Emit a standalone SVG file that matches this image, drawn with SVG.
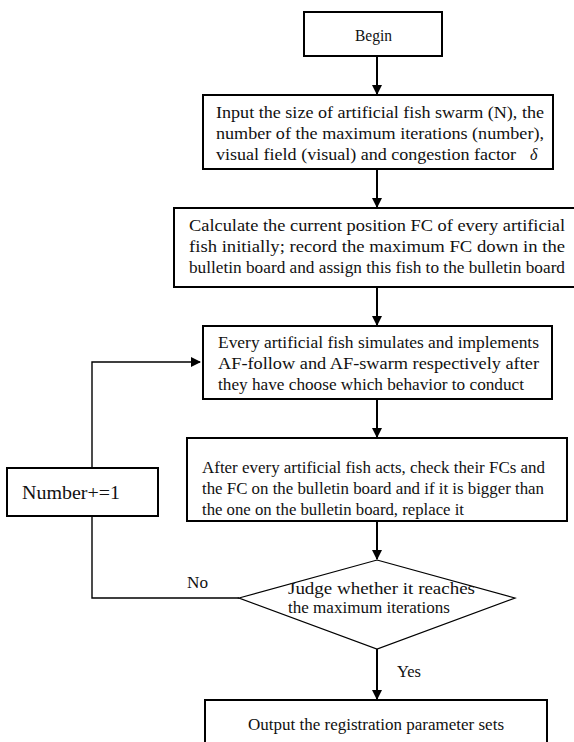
<svg xmlns="http://www.w3.org/2000/svg" width="574" height="742" viewBox="0 0 574 742" font-family="Liberation Serif, Times New Roman, Tinos, DejaVu Serif, serif">
<defs>
<marker id="ah" markerWidth="10" markerHeight="10" refX="9" refY="5" orient="auto" markerUnits="userSpaceOnUse">
<path d="M0,0 L10,5 L0,10 Z" fill="#000"/>
</marker>
<style>
.box{fill:#fff;stroke:#000;stroke-width:2}
.dia{fill:#fff;stroke:#000;stroke-width:1.2}
.t{font-size:16px;fill:#111}
.c{stroke:#000;stroke-width:2;fill:none}
.l{stroke:#000;stroke-width:1.4;fill:none}
</style>
</defs>
<rect width="574" height="742" fill="#fff"/>
<g id="connectors">
<line class="c" x1="377" y1="56" x2="377" y2="94" marker-end="url(#ah)"/>
<line class="c" x1="377" y1="169" x2="377" y2="207" marker-end="url(#ah)"/>
<line class="c" x1="377" y1="287" x2="377" y2="325" marker-end="url(#ah)"/>
<line class="c" x1="377" y1="399" x2="377" y2="437" marker-end="url(#ah)"/>
<line class="c" x1="377" y1="521" x2="377" y2="559" marker-end="url(#ah)"/>
<line class="c" x1="377" y1="649" x2="377" y2="699" marker-end="url(#ah)"/>
<polyline class="l" points="239,598 92,598 92,362 200,362" marker-end="url(#ah)"/>
<text class="t" font-family="Liberation Serif, serif" x="187" y="588" textLength="21" lengthAdjust="spacingAndGlyphs">No</text>
<text class="t" font-family="Liberation Serif, serif" x="397" y="677" textLength="24" lengthAdjust="spacingAndGlyphs">Yes</text>
</g>
<g id="begin">
<rect class="box" x="304" y="12" width="138" height="44"/>
<text class="t" font-family="Liberation Serif, serif" x="355" y="41" textLength="37" lengthAdjust="spacingAndGlyphs">Begin</text>
</g>
<g id="input" font-family="Liberation Serif, serif">
<rect class="box" x="203" y="95" width="350" height="74"/>
<text class="t" x="216" y="118" textLength="328" lengthAdjust="spacingAndGlyphs">Input the size of artificial fish swarm (N), the</text>
<text class="t" x="216" y="139" textLength="328" lengthAdjust="spacingAndGlyphs">number of the maximum iterations (number),</text>
<text class="t" x="216" y="160" textLength="300" lengthAdjust="spacingAndGlyphs">visual field (visual) and congestion factor</text>
<text class="t" x="530" y="160" font-style="italic" font-size="19">δ</text>
</g>
<g id="calc" font-family="Liberation Serif, serif">
<rect class="box" x="174" y="208" width="404" height="79"/>
<text class="t" x="189" y="231" textLength="376" lengthAdjust="spacingAndGlyphs">Calculate the current position FC of every artificial</text>
<text class="t" x="189" y="252" textLength="376" lengthAdjust="spacingAndGlyphs">fish initially; record the maximum FC down in the</text>
<text class="t" x="189" y="273" textLength="376" lengthAdjust="spacingAndGlyphs">bulletin board and assign this fish to the bulletin board</text>
</g>
<g id="every" font-family="Liberation Serif, serif">
<rect class="box" x="203" y="326" width="349" height="73"/>
<text class="t" x="218" y="348" textLength="321" lengthAdjust="spacingAndGlyphs">Every artificial fish simulates and implements</text>
<text class="t" x="218" y="369" textLength="321" lengthAdjust="spacingAndGlyphs">AF-follow and AF-swarm respectively after</text>
<text class="t" x="218" y="390" textLength="306" lengthAdjust="spacingAndGlyphs">they have choose which behavior to conduct</text>
</g>
<g id="after" font-family="Liberation Serif, serif">
<rect class="box" x="187" y="438" width="380" height="83"/>
<text class="t" x="202" y="473" textLength="343" lengthAdjust="spacingAndGlyphs">After every artificial fish acts, check their FCs and</text>
<text class="t" x="202" y="494" textLength="342" lengthAdjust="spacingAndGlyphs">the FC on the bulletin board and if it is bigger than</text>
<text class="t" x="202" y="515" textLength="262" lengthAdjust="spacingAndGlyphs">the one on the bulletin board, replace it</text>
</g>
<g id="number" font-family="Liberation Serif, serif">
<rect class="box" x="7" y="468" width="151" height="48"/>
<text class="t" x="22" y="499" font-size="18" style="font-size:18px" textLength="98" lengthAdjust="spacingAndGlyphs">Number+=1</text>
</g>
<g id="judge" font-family="Liberation Serif, serif">
<polygon class="dia" points="377,560 515,598 377,649 239,598"/>
<text class="t" x="288" y="594" textLength="187" lengthAdjust="spacingAndGlyphs">Judge whether it reaches</text>
<text class="t" x="288" y="613" textLength="162" lengthAdjust="spacingAndGlyphs">the maximum iterations</text>
</g>
<g id="output" font-family="Liberation Serif, serif">
<rect class="box" x="205" y="700" width="342" height="60"/>
<text class="t" x="248" y="730" textLength="256" lengthAdjust="spacingAndGlyphs">Output the registration parameter sets</text>
</g>
</svg>
